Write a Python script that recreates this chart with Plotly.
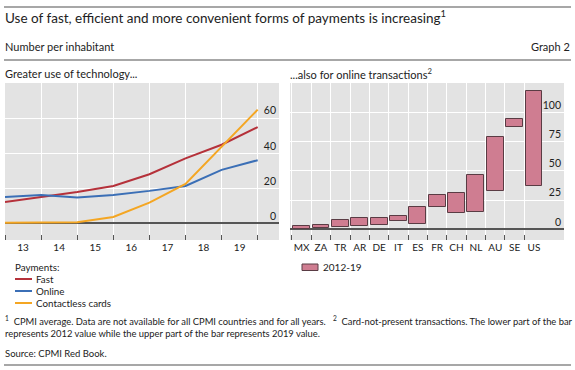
import plotly.graph_objects as go

W, H = 575, 370

# ---------------- data ----------------
years = [2012, 2013, 2014, 2015, 2016, 2017, 2018, 2019]
year_labels = ["13", "14", "15", "16", "17", "18", "19"]
fast = [12.2, 14.9, 17.9, 21.3, 28.0, 37.0, 44.8, 54.9]
online = [15.0, 16.2, 14.7, 16.2, 18.5, 21.3, 30.5, 36.0]
contactless = [0.4, 0.4, 0.6, 3.6, 11.8, 22.5, 43.8, 64.8]

countries = ["MX", "ZA", "TR", "AR", "DE", "IT", "ES", "FR", "CH", "NL", "AU", "SE", "US"]
v2012 = [0.1, 0.9, 1.7, 2.8, 4.0, 7.4, 4.8, 19.0, 14.2, 15.1, 33.0, 87.5, 36.9]
v2019 = [2.8, 3.7, 8.0, 9.7, 10.2, 11.4, 19.0, 29.0, 31.3, 46.9, 78.7, 94.3, 118.2]

left_yticks = [0, 20, 40, 60, 80]
right_yticks = [0, 25, 50, 75, 100, 125]

# ---------------- style ----------------
FONT = "Lato"
C_FAST = "#b5313a"
C_ONLINE = "#3b6fb6"
C_CONTACT = "#f4a623"
C_BAR = "#cf7d91"
C_BAR_LINE = "#5a3c44"
BG = "#e3e3e3"
TXT = "#222222"


def px(x):
    return x / W


def py(y):
    return 1 - y / H


# x positions: annual values plotted at year end
x_pos = [y + 1 for y in years]
label_pos = [x_pos[i] + 0.5 for i in range(len(year_labels))]

fig = go.Figure()

for name, vals, col in [("Fast", fast, C_FAST), ("Online", online, C_ONLINE),
                        ("Contactless cards", contactless, C_CONTACT)]:
    fig.add_trace(go.Scatter(x=x_pos, y=vals, mode="lines", name=name,
                             line=dict(color=col, width=2), showlegend=False,
                             xaxis="x", yaxis="y"))

fig.add_trace(go.Bar(x=countries, y=[b - a for a, b in zip(v2012, v2019)], base=v2012,
                     width=0.87, marker=dict(color=C_BAR, line=dict(color=C_BAR_LINE, width=1)),
                     name="2012-19", showlegend=False, xaxis="x2", yaxis="y2"))

ydom = [py(240), py(83)]

fig.update_layout(
    width=W, height=H,
    margin=dict(l=0, r=0, t=0, b=0),
    paper_bgcolor="white", plot_bgcolor=BG,
    font=dict(family=FONT, color=TXT, size=10),
    showlegend=False,
    bargap=0,
    xaxis=dict(domain=[px(5), px(279)], range=[x_pos[0], x_pos[-1] + 0.59],
               tickmode="array", tickvals=label_pos, ticktext=year_labels,
               ticks="", showgrid=False, zeroline=False, showline=False, tickangle=0,
               tickfont=dict(size=10, color=TXT),
               minor=dict(tickmode="array", tickvals=x_pos, ticks="inside", ticklen=5,
                          tickcolor="#555555", tickwidth=1, showgrid=True,
                          gridcolor="white", gridwidth=1),
               anchor="y", fixedrange=True),
    yaxis=dict(domain=ydom, range=[-9.5, 80], side="right",
               tickmode="array", tickvals=left_yticks,
               ticktext=[str(v) for v in left_yticks[:-1]] + [""],
               ticklabelposition="inside top", ticks="",
               showgrid=True, gridcolor="white", gridwidth=1,
               zeroline=True, zerolinecolor="#555555", zerolinewidth=1.5,
               tickfont=dict(size=10.5, color=TXT), anchor="x", fixedrange=True),
    xaxis2=dict(domain=[px(290), px(564)], type="category", range=[-0.6, 13.55],
                tickson="boundaries", ticks="inside", ticklen=5, tickcolor="#555555",
                showgrid=True, gridcolor="white", gridwidth=1, zeroline=False, tickangle=0,
                tickfont=dict(size=10, color=TXT), anchor="y2", fixedrange=True),
    yaxis2=dict(domain=ydom, range=[-9, 125], side="right",
                tickmode="array", tickvals=right_yticks,
                ticktext=[str(v) for v in right_yticks[:-1]] + [""],
                ticklabelposition="inside top", ticks="",
                showgrid=True, gridcolor="white", gridwidth=1,
                zeroline=True, zerolinecolor="#555555", zerolinewidth=1.5,
                tickfont=dict(size=10.5, color=TXT), anchor="x2", fixedrange=True),
)

shapes = []
for yline in [7, 60, 365]:
    shapes.append(dict(type="line", xref="paper", yref="paper", x0=px(4), x1=px(571),
                       y0=py(yline), y1=py(yline), line=dict(color="#8a8a8a", width=1.5)))

# legend (left)
leg_items = [("Fast", C_FAST), ("Online", C_ONLINE), ("Contactless cards", C_CONTACT)]
ann = []


def text(x, y, s, size, anchor="left", color=TXT):
    ann.append(dict(x=px(x), y=py(y), xref="paper", yref="paper", text=s, showarrow=False,
                    xanchor=anchor, yanchor="middle", align="left",
                    font=dict(family=FONT, size=size, color=color)))


text(13, 267, "Payments:", 9.8)
for i, (nm, col) in enumerate(leg_items):
    yy = 279 + i * 12
    shapes.append(dict(type="line", xref="paper", yref="paper", x0=px(15), x1=px(32),
                       y0=py(yy), y1=py(yy), line=dict(color=col, width=2)))
    text(34, yy, nm, 9.8)

# legend (right)
shapes.append(dict(type="rect", xref="paper", yref="paper", x0=px(302), x1=px(318),
                   y0=py(270.5), y1=py(264), fillcolor=C_BAR, line=dict(color=C_BAR_LINE, width=1)))
text(321, 267.3, "2012-19", 10)

text(3, 17, "Use of fast, efficient and more convenient forms of payments is increasing<sup>1</sup>", 13.5)
text(3, 46, "Number per inhabitant", 11)
text(572, 46, "Graph 2", 11, anchor="right")
text(3, 74, "Greater use of technology...", 11)
text(288, 74, "...also for online transactions<sup>2</sup>", 11)
ann.append(dict(x=px(3), y=py(312.5), xref="paper", yref="paper", showarrow=False,
                xanchor="left", yanchor="top", align="left",
                text="<sup>1</sup>  CPMI average. Data are not available for all CPMI countries and for all years.   "
                     "<sup>2</sup>  Card-not-present transactions. The lower part of the bar<br>"
                     "represents 2012 value while the upper part of the bar represents 2019 value.",
                font=dict(family=FONT, size=9.4, color=TXT)))
text(3, 353, "Source: CPMI Red Book.", 9.5)

fig.update_layout(shapes=shapes, annotations=ann)
fig.write_html("out.html", config={"displayModeBar": False},
               post_script="document.body.style.margin='0';")
